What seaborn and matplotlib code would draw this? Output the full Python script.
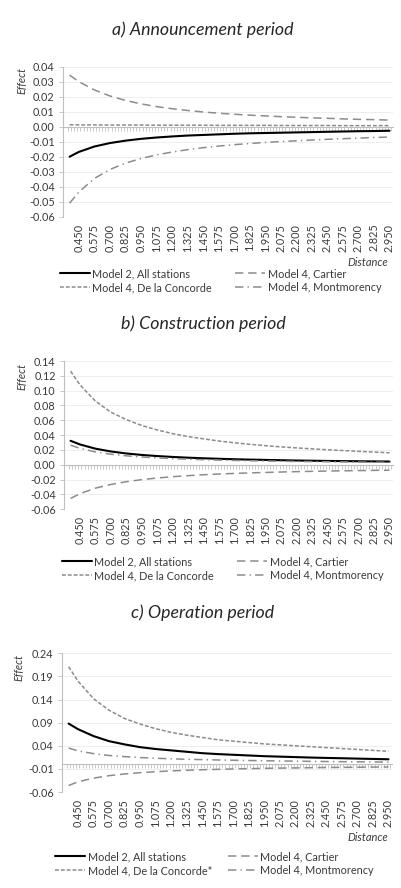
import pandas as pd
import seaborn as sns
import matplotlib.pyplot as plt
from matplotlib.ticker import FixedLocator

distance = [0.375, 0.450, 0.575, 0.700, 0.825, 0.950, 1.075, 1.200, 1.325, 1.450, 1.575,
            1.700, 1.825, 1.950, 2.075, 2.200, 2.325, 2.450, 2.575, 2.700, 2.825, 2.950]
tick_pos = [0.450, 0.575, 0.700, 0.825, 0.950, 1.075, 1.200, 1.325, 1.450, 1.575, 1.700,
            1.825, 1.950, 2.075, 2.200, 2.325, 2.450, 2.575, 2.700, 2.825, 2.950]
tick_labels = ['0.450', '0.575', '0.700', '0.825', '0.950', '1.075', '1.200', '1.325', '1.450',
               '1.575', '1.700', '1.825', '1.950', '2.075', '2.200', '2.325', '2.450', '2.575',
               '2.700', '2.825', '2.950']

# a) announcement period
a_model2 = [-0.020, -0.0168, -0.0132, -0.0109, -0.0093, -0.0081, -0.0072, -0.0065, -0.0059, -0.0055, -0.0051,
            -0.0047, -0.0044, -0.0042, -0.0040, -0.0038, -0.0036, -0.0034, -0.0032, -0.0030, -0.0029, -0.0027]
a_cartier = [0.0344, 0.030, 0.0245, 0.0205, 0.0175, 0.0152, 0.0134, 0.012, 0.0108, 0.0098, 0.009,
             0.0083, 0.0077, 0.0072, 0.0067, 0.0063, 0.0059, 0.0056, 0.0052, 0.0049, 0.0047, 0.0044]
a_concorde = [0.0013, 0.0012, 0.0012, 0.0011, 0.0011, 0.0011, 0.001, 0.001, 0.001, 0.001, 0.0009,
              0.0009, 0.0009, 0.0009, 0.0008, 0.0008, 0.0008, 0.0008, 0.0007, 0.0007, 0.0007, 0.0007]
a_montmorency = [-0.051, -0.0435, -0.0345, -0.0285, -0.0243, -0.0212, -0.0188, -0.0169, -0.0153, -0.014, -0.0129,
                 -0.012, -0.0112, -0.0105, -0.0099, -0.0094, -0.0089, -0.0084, -0.008, -0.0076, -0.0072, -0.0069]

# b) construction period
b_model2 = [0.0324, 0.0275, 0.0218, 0.0180, 0.0153, 0.0133, 0.0118, 0.0106, 0.0096, 0.0088, 0.0081,
            0.0075, 0.007, 0.0066, 0.0062, 0.0058, 0.0055, 0.0052, 0.005, 0.0048, 0.0046, 0.0044]
b_cartier = [-0.0454, -0.039, -0.0315, -0.0265, -0.0228, -0.02, -0.0178, -0.016, -0.0146, -0.0134, -0.0124,
             -0.0116, -0.0109, -0.0103, -0.0097, -0.0092, -0.0088, -0.0084, -0.0081, -0.0078, -0.0075, -0.0073]
b_concorde = [0.1263, 0.108, 0.086, 0.071, 0.061, 0.053, 0.047, 0.042, 0.038, 0.035, 0.032,
              0.0297, 0.0276, 0.0258, 0.0242, 0.0228, 0.0215, 0.0203, 0.0192, 0.0182, 0.0172, 0.0162]
b_montmorency = [0.0265, 0.0222, 0.0174, 0.0143, 0.0121, 0.0105, 0.0093, 0.0083, 0.0075, 0.0069, 0.0063,
                 0.0059, 0.0055, 0.0051, 0.0048, 0.0045, 0.0043, 0.0041, 0.0039, 0.0037, 0.0035, 0.0034]

# c) operation period
c_model2 = [0.088, 0.076, 0.061, 0.050, 0.043, 0.037, 0.033, 0.030, 0.027, 0.024, 0.022,
            0.0205, 0.019, 0.0175, 0.0165, 0.0155, 0.0145, 0.0137, 0.013, 0.0122, 0.0115, 0.0108]
c_cartier = [-0.046, -0.038, -0.030, -0.0247, -0.021, -0.0182, -0.0161, -0.0144, -0.013, -0.0119, -0.011,
             -0.0102, -0.0095, -0.0089, -0.0083, -0.0079, -0.0074, -0.007, -0.0067, -0.0064, -0.0061, -0.0058]
c_concorde = [0.211, 0.180, 0.142, 0.117, 0.099, 0.087, 0.077, 0.069, 0.063, 0.058, 0.053,
              0.050, 0.047, 0.044, 0.042, 0.040, 0.038, 0.036, 0.034, 0.032, 0.030, 0.028]
c_montmorency = [0.035, 0.029, 0.023, 0.019, 0.0165, 0.0145, 0.013, 0.0118, 0.0108, 0.010, 0.0093,
                 0.0087, 0.0081, 0.0076, 0.0071, 0.0067, 0.0063, 0.0059, 0.0056, 0.0053, 0.005, 0.0047]

a_yticks = [-0.06, -0.05, -0.04, -0.03, -0.02, -0.01, 0.00, 0.01, 0.02, 0.03, 0.04]
b_yticks = [-0.06, -0.04, -0.02, 0.00, 0.02, 0.04, 0.06, 0.08, 0.10, 0.12, 0.14]
c_yticks = [-0.06, -0.01, 0.04, 0.09, 0.14, 0.19, 0.24]

sns.set_theme(style='white')
plt.rcParams['font.family'] = ['Lato', 'DejaVu Sans']
plt.rcParams['axes.unicode_minus'] = False
plt.rcParams['lines.scale_dashes'] = False

W, H = 401, 888
fig = plt.figure(figsize=(W / 100, H / 100), dpi=100)
TXT = '#3a3a3a'
AX = '#bfbfbf'
GRAY = '#8c8c8c'


def box(l, t, r, b):
    return [l / W, 1 - b / H, (r - l) / W, (b - t) / H]


def panel(rect, title, title_y, series, yticks, effect_xy, legend_y, legend_x, show_dist, dist_y):
    ax = fig.add_axes(box(*rect))
    names = list(series.keys())
    df = pd.concat([pd.DataFrame({'distance': distance, 'effect': v, 'series': k})
                    for k, v in series.items()])
    sns.lineplot(data=df, x='distance', y='effect', hue='series', style='series', size='series',
                 palette=dict(zip(names, ['#000000', GRAY, GRAY, GRAY])),
                 dashes=dict(zip(names, ['', (6, 3.5), (2.8, 1.4), (6, 3, 1, 3)])),
                 sizes=dict(zip(names, [1.5, 1.1, 1.1, 1.1])),
                 estimator=None, legend=False, ax=ax)
    ax.set_xlim(0.322, 2.978)
    ax.set_ylim(yticks[0], yticks[-1])
    ax.set_yticks(yticks)
    ax.set_yticklabels(['%.2f' % t for t in yticks])
    ax.yaxis.grid(True, color='#eeeeee', lw=0.7)
    ax.set_axisbelow(True)
    for s in ['top', 'right']:
        ax.spines[s].set_visible(False)
    ax.spines['left'].set_color(AX)
    ax.spines['bottom'].set_color(AX)
    ax.spines['bottom'].set_position(('data', 0))
    ax.spines['left'].set_linewidth(0.8)
    ax.spines['bottom'].set_linewidth(0.8)
    ax.xaxis.set_major_locator(FixedLocator([0.3625 + 0.025 * i for i in range(105)]))
    ax.tick_params(axis='x', bottom=True, length=3, width=0.6, color=AX, labelbottom=False)
    ax.tick_params(axis='y', left=True, length=3, width=0.6, color=AX, labelsize=7.8,
                   labelcolor=TXT, pad=3)
    ax.set_xlabel('')
    ax.set_ylabel('')
    sec = ax.secondary_xaxis('bottom')
    sec.set_xticks(tick_pos)
    sec.set_xticklabels(tick_labels, rotation=90)
    sec.tick_params(length=0, labelsize=7.8, labelcolor=TXT, pad=5)
    sec.spines['bottom'].set_visible(False)

    fig.text(203 / W, 1 - title_y / H, title, ha='center', va='center', style='italic',
             fontsize=12.8, color='#262626')
    fig.text(effect_xy[0] / W, 1 - effect_xy[1] / H, 'Effect', rotation=90, ha='center',
             va='center', style='italic', fontsize=7.8, color=TXT)
    if show_dist:
        fig.text(388 / W, 1 - dist_y / H, 'Distance', ha='right', va='center', style='italic',
                 fontsize=8, color=TXT)

    lines = ax.get_lines()[:4]
    for cols, x0 in zip([[0, 2], [1, 3]], legend_x):
        fig.legend([lines[i] for i in cols], [names[i] for i in cols],
                   loc='upper left', bbox_to_anchor=(x0 / W, 1 - legend_y / H),
                   frameon=False, fontsize=7.8, handlelength=2.8, handletextpad=0.2,
                   labelspacing=0.28, borderpad=0, borderaxespad=0, labelcolor=TXT)
    return ax


panel((63, 66.7, 393, 216.7), 'a) Announcement period', 30,
      {'Model 2, All stations': a_model2, 'Model 4, Cartier': a_cartier,
       'Model 4, De la Concorde': a_concorde, 'Model 4, Montmorency': a_montmorency},
      a_yticks, (22, 80), 268, (60, 235), True, 262)

panel((64, 361, 393, 509.3), 'b) Construction period', 324,
      {'Model 2, All stations': b_model2, 'Model 4, Cartier': b_cartier,
       'Model 4, De la Concorde': b_concorde, 'Model 4, Montmorency': b_montmorency},
      b_yticks, (22, 377), 556, (62, 237), False, 0)

panel((62, 653.3, 392, 792), 'c) Operation period', 613,
      {'Model 2, All stations': c_model2, 'Model 4, Cartier': c_cartier,
       'Model 4, De la Concorde*': c_concorde, 'Model 4, Montmorency': c_montmorency},
      c_yticks, (19, 667), 851, (55, 228), True, 837)

fig.savefig('out.png', dpi=100)
